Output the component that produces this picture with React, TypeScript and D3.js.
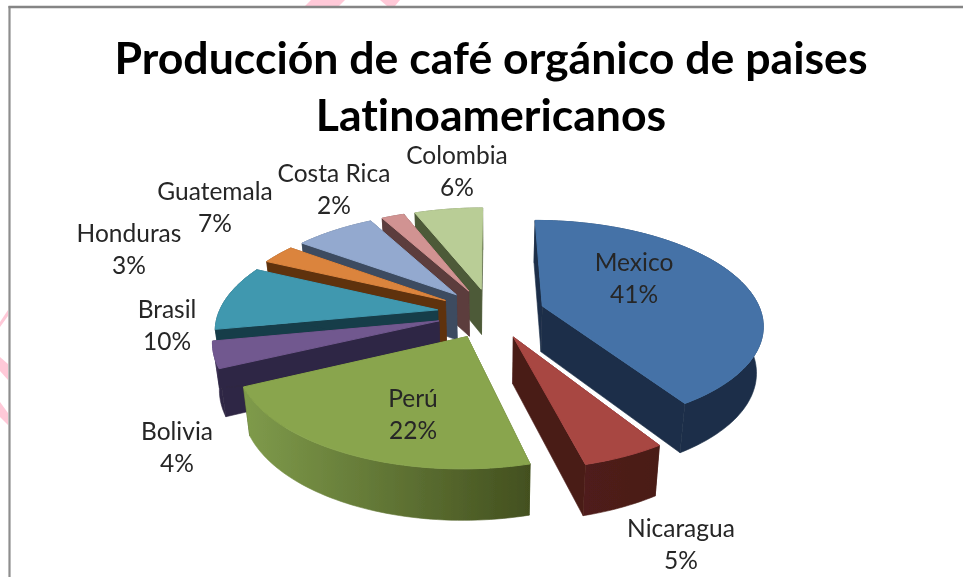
import React from "react";
import * as d3 from "d3";

const countries = ["Mexico", "Nicaragua", "Perú", "Bolivia", "Brasil", "Honduras", "Guatemala", "Costa Rica", "Colombia"];
const shares = [41, 5, 22, 4, 10, 3, 7, 2, 6];
const topColors = ["#4472a7", "#a84643", "#89a54e", "#71588f", "#4198af", "#db843d", "#93a9cf", "#d19392", "#b9cd96"];
const wallColors = ["#1c2f48", "#4a1c18", "#43501f", "#2f2744", "#183c48", "#5f3311", "#3c4c60", "#5b3c3c", "#4d5a38"];
const arcWallLight = ["#1c2f48", "#4f1f1a", "#7f9b4b", "#5f4a7c", "#183c48", "#5f3311", "#3c4c60", "#5b3c3c", "#4d5a38"];
const titleLines = ["Producción de café orgánico de paises", "Latinoamericanos"];

// Layout of the label blocks (centre x, first-line centre y)
const labelAnchors: [number, number][] = [
  [634, 262], [681, 528], [413, 398], [177, 431], [167, 309], [129, 233], [215, 191], [334, 173], [457, 155],
];

const W = 963, H = 577;
const cx = 491, cy = 313, R = 219, explode = 54, tilt = 0.465, persp = 0.00075, depth = 46, shrink = 0.975;
const FONT = "Lato, 'Open Sans', sans-serif";

type P = [number, number];
const scaleAt = (Y: number) => 1 / (1 - Y * persp);
const project = (X: number, Y: number): P => {
  const s = scaleAt(Y);
  return [cx + X * s, cy + Y * tilt * s];
};
const projectBase = (X: number, Y: number): P => {
  const s = scaleAt(Y);
  return [cx + X * s * shrink, cy + Y * tilt * s + depth * Math.sqrt(s)];
};

const line = d3.line<P>().x((d) => d[0]).y((d) => d[1]);
const closed = (pts: P[]) => line(pts) + "Z";

const slices = d3.pie<number>().sort(null).value((d) => d)(shares).map((a) => {
  const mid = (a.startAngle + a.endAngle) / 2;
  const ax = explode * Math.sin(mid), ay = -explode * Math.cos(mid);
  const n = Math.max(4, Math.ceil((a.endAngle - a.startAngle) * 40));
  const plane: P[] = d3.range(n + 1).map((i) => {
    const t = a.startAngle + ((a.endAngle - a.startAngle) * i) / n;
    return [ax + R * Math.sin(t), ay - R * Math.cos(t)];
  });
  return { i: a.index, ax, ay, plane };
});

function Slice({ s }: { s: (typeof slices)[number] }) {
  const top = s.plane.map((p) => project(p[0], p[1]));
  const base = s.plane.map((p) => projectBase(p[0], p[1]));
  const apexT = project(s.ax, s.ay), apexB = projectBase(s.ax, s.ay);
  const last = top.length - 1;
  const startWall = closed([apexT, top[0], base[0], apexB]);
  const endWall = closed([apexT, top[last], base[last], apexB]);
  const arcWall = closed([...top, ...[...base].reverse()]);
  const gid = `arcwall-${s.i}`;
  const x0 = d3.min(top, (d) => d[0])!, x1 = d3.max(top, (d) => d[0])!;
  return (
    <g>
      <defs>
        <linearGradient id={gid} gradientUnits="userSpaceOnUse" x1={x0} x2={x1} y1={0} y2={0}>
          <stop offset="0" stopColor={arcWallLight[s.i]} />
          <stop offset="1" stopColor={wallColors[s.i]} />
        </linearGradient>
      </defs>
      <path d={startWall} fill={wallColors[s.i]} stroke={wallColors[s.i]} strokeWidth={0.6} />
      <path d={endWall} fill={wallColors[s.i]} stroke={wallColors[s.i]} strokeWidth={0.6} />
      <path d={arcWall} fill={`url(#${gid})`} stroke={`url(#${gid})`} strokeWidth={0.6} />
      <path d={closed([apexT, ...top])} fill={topColors[s.i]} stroke={topColors[s.i]} strokeWidth={1} />
    </g>
  );
}

export default function App() {
  const order = [...slices].sort((a, b) => a.ay - b.ay);
  return (
    <svg width={W} height={H} viewBox={`0 0 ${W} ${H}`} style={{ position: "absolute", left: 0, top: 0, background: "#fff" }}>
      <defs>
        <filter id="soft" x="-5%" y="-5%" width="110%" height="110%">
          <feGaussianBlur stdDeviation="0.55" />
        </filter>
      </defs>
      <g fill="#ffc9d8" filter="url(#soft)">
        <path d="M305,6 L311,0 L345,0 L339,6 Z" />
        <path d="M380,0 L400,0 L395,6 L387,6 Z" />
        <path d="M0,322 L8,310 L8,316 L0,327 Z" />
        <path d="M0,357 L8,364 L8,380 L0,371 Z" />
        <path d="M0,402 L8,413 L8,425 L0,417 Z" />
      </g>
      <g filter="url(#soft)">
        <line x1={9.5} x2={9.5} y1={6} y2={H} stroke="#8e8e8e" strokeWidth={2.2} />
        <line x1={8.5} x2={W} y1={7} y2={7} stroke="#858585" strokeWidth={2.4} />
      </g>
      <g filter="url(#soft)">
        {order.map((s) => <Slice key={s.i} s={s} />)}
      </g>
      <g filter="url(#soft)" style={{ fontVariantLigatures: "none" }}>
        <g fontFamily={FONT} fontWeight={700} fontSize={44.6} fill="#000" textAnchor="middle">
          {titleLines.map((t, i) => (
            <text key={t} x={491} y={74 + i * 57}>{t}</text>
          ))}
        </g>
        <g fontFamily={FONT} fontSize={24.5} fill="#262626" textAnchor="middle">
          {countries.map((c, i) => (
            <g key={c}>
              <text x={labelAnchors[i][0]} y={labelAnchors[i][1]} dy="0.36em">{c}</text>
              <text x={labelAnchors[i][0]} y={labelAnchors[i][1] + 32} dy="0.36em">{shares[i]}%</text>
            </g>
          ))}
        </g>
      </g>
    </svg>
  );
}
